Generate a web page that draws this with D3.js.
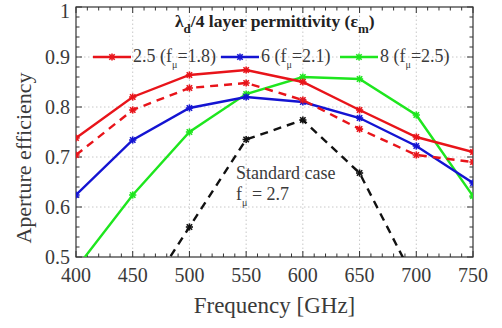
<!DOCTYPE html>
<html>
<head>
<meta charset="utf-8">
<script src="https://cdn.jsdelivr.net/npm/d3@7/dist/d3.min.js"></script>
<style>
  body { margin: 0; background: #fff; }
</style>
</head>
<body>
<svg id="chart" width="502" height="328" font-family="'Liberation Serif', 'DejaVu Serif', serif"></svg>
<script>
// Frequency points (GHz)
const freqs = [400, 450, 500, 550, 600, 650, 700, 750];

// Aperture efficiency for each λd/4 layer permittivity
const eps25Solid  = [0.738, 0.820, 0.864, 0.874, 0.850, 0.794, 0.740, 0.710];
const eps25Dashed = [0.704, 0.794, 0.838, 0.848, 0.814, 0.756, 0.704, 0.690];
const eps6        = [0.624, 0.734, 0.798, 0.820, 0.810, 0.778, 0.722, 0.648];
const eps8        = [0.477, 0.624, 0.750, 0.826, 0.860, 0.856, 0.784, 0.622];
const standard    = [0.384, 0.560, 0.735, 0.774, 0.668, 0.447];
const standardFreqs = [450, 500, 550, 600, 650, 700];

const xTicks = [400, 450, 500, 550, 600, 650, 700, 750];
const yTicks = [0.5, 0.6, 0.7, 0.8, 0.9, 1];

const legendLabels = [
  { eps: "2.5", fp: "1.8", color: "#e8141a" },
  { eps: "6",   fp: "2.1", color: "#1414d2" },
  { eps: "8",   fp: "2.5", color: "#1ee61e" }
];

const svg = d3.select("#chart");
const m = { left: 76, right: 29, top: 7, bottom: 71 };
const W = 502, H = 328;
const textColor = "#3a3a3a";

const x = d3.scaleLinear().domain([400, 750]).range([m.left, W - m.right]);
const y = d3.scaleLinear().domain([0.5, 1]).range([H - m.bottom, m.top]);

// clip region for the data lines
svg.append("defs").append("clipPath").attr("id", "plotClip")
  .append("rect")
  .attr("x", x(400)).attr("y", y(1))
  .attr("width", x(750) - x(400)).attr("height", y(0.5) - y(1));

// dotted grid
const grid = svg.append("g");
xTicks.slice(1, -1).forEach(t => {
  grid.append("line").attr("x1", x(t)).attr("x2", x(t))
    .attr("y1", y(0.5)).attr("y2", y(1))
    .attr("stroke", "#c8c8c8").attr("stroke-width", 1).attr("stroke-dasharray", "1.5,2.5");
});
yTicks.slice(1, -1).forEach(t => {
  grid.append("line").attr("x1", x(400)).attr("x2", x(750))
    .attr("y1", y(t)).attr("y2", y(t))
    .attr("stroke", "#c8c8c8").attr("stroke-width", 1).attr("stroke-dasharray", "1.5,2.5");
});

// inward ticks on all four sides
const tickColor = "#333";
const xMinor = d3.range(400, 751, 10);
const yMinor = d3.range(0.5, 1.0001, 0.02);
const ticks = svg.append("g").attr("stroke", tickColor).attr("stroke-width", 1);
xMinor.forEach(t => {
  const major = xTicks.includes(Math.round(t));
  const len = major ? 6 : 3.5;
  ticks.append("line").attr("x1", x(t)).attr("x2", x(t)).attr("y1", y(0.5)).attr("y2", y(0.5) - len);
  ticks.append("line").attr("x1", x(t)).attr("x2", x(t)).attr("y1", y(1)).attr("y2", y(1) + len);
});
yMinor.forEach(t => {
  const major = Math.abs(t * 10 - Math.round(t * 10)) < 1e-6;
  const len = major ? 6 : 3.5;
  ticks.append("line").attr("x1", x(400)).attr("x2", x(400) + len).attr("y1", y(t)).attr("y2", y(t));
  ticks.append("line").attr("x1", x(750)).attr("x2", x(750) - len).attr("y1", y(t)).attr("y2", y(t));
});

// frame
svg.append("rect").attr("x", x(400)).attr("y", y(1))
  .attr("width", x(750) - x(400)).attr("height", y(0.5) - y(1))
  .attr("fill", "none").attr("stroke", tickColor).attr("stroke-width", 1.2);

// tick labels
svg.append("g").selectAll("text").data(xTicks).join("text")
  .attr("x", d => x(d)).attr("y", y(0.5) + 25)
  .attr("text-anchor", "middle").attr("font-size", 20).attr("fill", textColor)
  .text(d => d);
svg.append("g").selectAll("text").data(yTicks).join("text")
  .attr("x", x(400) - 6).attr("y", d => Math.max(y(d) + 7, 18))
  .attr("text-anchor", "end").attr("font-size", 20).attr("fill", textColor)
  .text(d => d === 1 ? "1" : d.toFixed(1));

// axis titles
svg.append("text").attr("x", (x(400) + x(750)) / 2).attr("y", 313)
  .attr("text-anchor", "middle").attr("font-size", 23).attr("fill", textColor)
  .text("Frequency [GHz]");
svg.append("text").attr("transform", `translate(31,${(y(0.5) + y(1)) / 2 + 26}) rotate(-90)`)
  .attr("text-anchor", "middle").attr("font-size", 22).attr("fill", textColor)
  .text("Aperture efficiency");

// asterisk marker
function star(g, cx, cy, color) {
  const r = 3.6;
  const p = g.append("g").attr("stroke", color).attr("stroke-width", 1.6);
  p.append("line").attr("x1", cx - r).attr("x2", cx + r).attr("y1", cy).attr("y2", cy);
  p.append("line").attr("x1", cx).attr("x2", cx).attr("y1", cy - r).attr("y2", cy + r);
  p.append("line").attr("x1", cx - r * 0.75).attr("x2", cx + r * 0.75).attr("y1", cy - r * 0.75).attr("y2", cy + r * 0.75);
  p.append("line").attr("x1", cx - r * 0.75).attr("x2", cx + r * 0.75).attr("y1", cy + r * 0.75).attr("y2", cy - r * 0.75);
}

const plot = svg.append("g").attr("clip-path", "url(#plotClip)");
const line = d3.line().x(d => x(d[0])).y(d => y(d[1]));

function series(fx, vals, color, dash) {
  const pts = fx.map((f, i) => [f, vals[i]]);
  plot.append("path").datum(pts).attr("d", line)
    .attr("fill", "none").attr("stroke", color).attr("stroke-width", 2.4)
    .attr("stroke-dasharray", dash || null);
  pts.forEach(p => star(plot, x(p[0]), y(p[1]), color));
}

series(standardFreqs, standard, "#111", "8,6");
series(freqs, eps8, legendLabels[2].color);
series(freqs, eps6, legendLabels[1].color);
series(freqs, eps25Dashed, legendLabels[0].color, "8,6");
series(freqs, eps25Solid, legendLabels[0].color);

// legend title
const title = svg.append("text").attr("x", 175).attr("y", 27)
  .attr("font-size", 17.5).attr("font-weight", "bold").attr("fill", "#222");
title.append("tspan").text("λ");
title.append("tspan").attr("dy", 6).attr("font-size", 13).text("d");
title.append("tspan").attr("dy", -6).text("/4 layer permittivity (ε");
title.append("tspan").attr("dy", 6).attr("font-size", 13).text("m");
title.append("tspan").attr("dy", -6).text(")");

// legend entries
const legendX = [93, 221, 340];
const legendY = 57;
legendLabels.forEach((d, i) => {
  const lx = legendX[i];
  svg.append("line").attr("x1", lx).attr("x2", lx + 38).attr("y1", legendY).attr("y2", legendY)
    .attr("stroke", d.color).attr("stroke-width", 2.4);
  star(svg, lx + 19, legendY, d.color);
  const t = svg.append("text").attr("x", lx + 40).attr("y", legendY + 5)
    .attr("font-size", 18).attr("fill", textColor);
  t.append("tspan").text(`${d.eps} (f`);
  t.append("tspan").attr("dy", 6).attr("font-size", 10).text("μ");
  t.append("tspan").attr("dy", -6).text(`=${d.fp})`);
});

// standard case annotation
svg.append("text").attr("x", 236).attr("y", 179)
  .attr("font-size", 18).attr("fill", textColor).text("Standard case");
const sc = svg.append("text").attr("x", 236).attr("y", 200)
  .attr("font-size", 18).attr("fill", textColor);
sc.append("tspan").text("f");
sc.append("tspan").attr("dy", 6).attr("font-size", 10).text("μ");
sc.append("tspan").attr("dy", -6).text(" = 2.7");
</script>
</body>
</html>
